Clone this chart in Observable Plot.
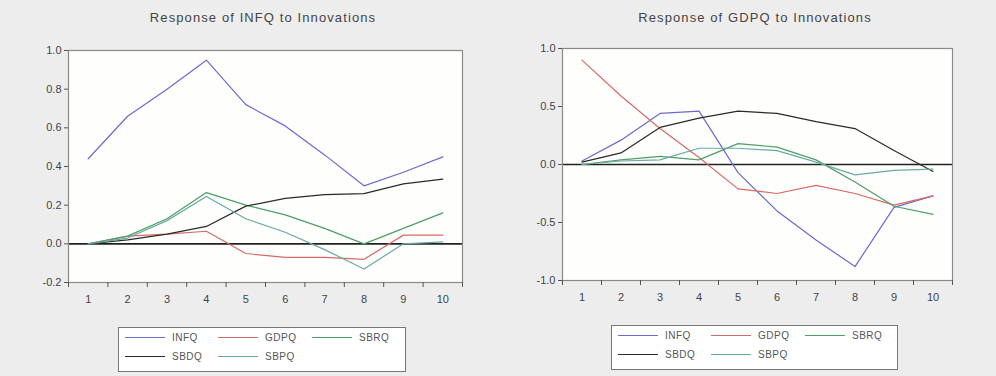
<!DOCTYPE html>
<html><head><meta charset="utf-8">
<script src="https://cdn.jsdelivr.net/npm/d3@7"></script>
<script src="https://cdn.jsdelivr.net/npm/@observablehq/plot@0.6"></script>
<style>
body{margin:0;background:#ececec;font-family:"Liberation Sans",Arial,sans-serif;}
#wrap{position:relative;width:996px;height:376px;overflow:hidden;background:#ededed;}
.title{position:absolute;font-size:13px;color:#444;text-align:center;letter-spacing:1.1px;white-space:nowrap;}
.panel{position:absolute;top:0;}
.legend{position:absolute;background:#fff;border:1px solid #777;box-sizing:border-box;}
.item{position:absolute;font-size:10px;color:#555;display:flex;align-items:center;white-space:nowrap;letter-spacing:0.5px;}
.item span.l{display:inline-block;width:40px;height:1.5px;margin-right:7px;}
</style></head><body><div id="wrap"></div><script>
// ---- data ----
const periods = [1,2,3,4,5,6,7,8,9,10];
const seriesNames = ["INFQ","GDPQ","SBRQ","SBDQ","SBPQ"];
const seriesColors = ["#6b6bd0","#d66a6a","#4e9e66","#2a2a2a","#6aaaa4"];

const titleLeft = "Response of INFQ to Innovations";
const titleRight = "Response of GDPQ to Innovations";

const leftYTicks = [-0.2, 0.0, 0.2, 0.4, 0.6, 0.8, 1.0];
const rightYTicks = [-1.0, -0.5, 0.0, 0.5, 1.0];

// Response of INFQ
const infq_INFQ = [0.44, 0.66, 0.80, 0.95, 0.72, 0.61, 0.46, 0.30, 0.37, 0.45];
const infq_GDPQ = [0.00, 0.04, 0.05, 0.065, -0.05, -0.07, -0.07, -0.08, 0.045, 0.045];
const infq_SBRQ = [0.00, 0.04, 0.13, 0.265, 0.20, 0.15, 0.08, 0.00, 0.08, 0.16];
const infq_SBDQ = [0.00, 0.02, 0.05, 0.09, 0.195, 0.235, 0.255, 0.26, 0.31, 0.335];
const infq_SBPQ = [0.00, 0.03, 0.12, 0.245, 0.13, 0.06, -0.03, -0.13, 0.00, 0.01];

// Response of GDPQ
const gdpq_INFQ = [0.03, 0.21, 0.44, 0.46, -0.07, -0.40, -0.65, -0.88, -0.37, -0.27];
const gdpq_GDPQ = [0.90, 0.59, 0.31, 0.06, -0.21, -0.25, -0.18, -0.25, -0.35, -0.27];
const gdpq_SBRQ = [0.00, 0.04, 0.07, 0.04, 0.18, 0.15, 0.04, -0.15, -0.36, -0.43];
const gdpq_SBDQ = [0.02, 0.10, 0.32, 0.40, 0.46, 0.44, 0.37, 0.31, 0.12, -0.06];
const gdpq_SBPQ = [0.00, 0.03, 0.04, 0.14, 0.14, 0.12, 0.02, -0.09, -0.05, -0.04];

function rowsOf(list){
  const out = [];
  list.forEach((vals, k) => vals.forEach((v, i) => out.push({period: periods[i], value: v, series: seriesNames[k]})));
  return out;
}
const leftRows = rowsOf([infq_INFQ, infq_GDPQ, infq_SBRQ, infq_SBDQ, infq_SBPQ]);
const rightRows = rowsOf([gdpq_INFQ, gdpq_GDPQ, gdpq_SBRQ, gdpq_SBDQ, gdpq_SBPQ]);

const boundaries = periods.map(p => p - 0.5).concat([periods[periods.length-1] + 0.5]);

function panel(rows, yDomain, yTicks, m){
  return Plot.plot({
    width: 498, height: 320,
    marginLeft: m.l, marginRight: m.r, marginTop: m.t, marginBottom: m.b,
    style: {background: "transparent", fontFamily: "Liberation Sans, Arial, sans-serif", fontSize: "11px", color: "#444"},
    x: {type: "linear", domain: [boundaries[0], boundaries[boundaries.length-1]], label: null},
    y: {domain: yDomain, label: null},
    color: {domain: seriesNames, range: seriesColors},
    marks: [
      Plot.frame({fill: "#fefefc", stroke: "none"}),
      Plot.ruleY([0], {stroke: "#222", strokeWidth: 1.6}),
      Plot.line(rows, {x: "period", y: "value", z: "series", stroke: "series", strokeWidth: 1.2}),
      Plot.frame({stroke: "#8a8a8a", strokeWidth: 1.2}),
      Plot.axisY({ticks: yTicks, tickFormat: d => d.toFixed(1), tickSize: 4, tickPadding: 3, stroke: "#555", label: null}),
      Plot.axisX({ticks: periods, tickSize: 0, tickPadding: 13, tickFormat: d => String(d), label: null}),
      Plot.axisX({ticks: boundaries, tickSize: 5, tickFormat: () => "", stroke: "#555", label: null})
    ]
  });
}

const wrap = document.getElementById("wrap");

function addPanel(svg, left){
  const d = document.createElement("div");
  d.className = "panel"; d.style.left = left + "px";
  d.appendChild(svg); wrap.appendChild(d);
}
addPanel(panel(leftRows, [-0.2, 1.0], leftYTicks, {l: 68, r: 36, t: 50, b: 38}), 0);
addPanel(panel(rightRows, [-1.0, 1.0], rightYTicks, {l: 64, r: 44, t: 48, b: 40}), 498);

function addTitle(text, cx, top){
  const t = document.createElement("div");
  t.className = "title"; t.textContent = text;
  t.style.top = top + "px"; t.style.left = (cx - 150) + "px"; t.style.width = "300px";
  wrap.appendChild(t);
}
addTitle(titleLeft, 263, 10);
addTitle(titleRight, 755, 10);

function addLegend(x, y, w, h){
  const lg = document.createElement("div");
  lg.className = "legend";
  Object.assign(lg.style, {left: x + "px", top: y + "px", width: w + "px", height: h + "px"});
  const colX = [6, 99, 193];
  const rowY = [4, 23];
  seriesNames.forEach((name, i) => {
    const it = document.createElement("div");
    it.className = "item";
    it.style.left = colX[i % 3] + "px";
    it.style.top = rowY[Math.floor(i / 3)] + "px";
    const l = document.createElement("span");
    l.className = "l"; l.style.background = seriesColors[i];
    it.appendChild(l);
    const s = document.createElement("span");
    s.textContent = name;
    it.appendChild(s);
    lg.appendChild(it);
  });
  wrap.appendChild(lg);
}
addLegend(118, 327, 288, 45);
addLegend(611, 325, 287, 45);
</script></body></html>
